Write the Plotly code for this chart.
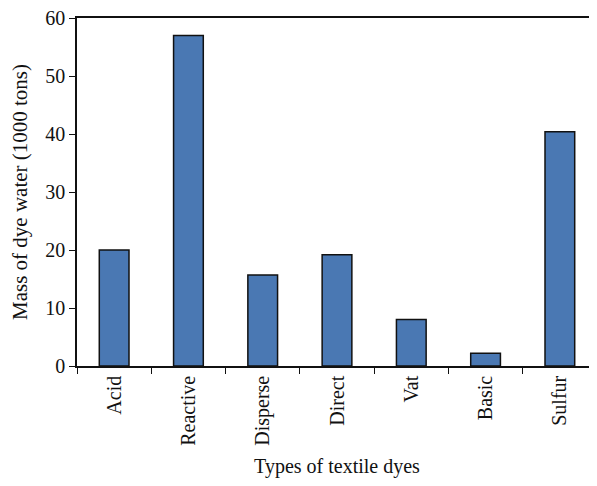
import plotly.graph_objects as go

categories = ["Acid", "Reactive", "Disperse", "Direct", "Vat", "Basic", "Sulfur"]
values = [20.0, 57.0, 15.7, 19.2, 8.0, 2.2, 40.4]
y_ticks = [0, 10, 20, 30, 40, 50, 60]

font_family = "Liberation Serif, DejaVu Serif, serif"

fig = go.Figure(go.Bar(
    x=categories, y=values, width=0.4,
    marker=dict(color="#4a78b3", line=dict(color="#111111", width=1.5)),
))

fig.update_layout(
    width=589, height=470,
    margin=dict(l=69, r=0, t=10, b=112, autoexpand=False),
    paper_bgcolor="white", plot_bgcolor="white",
    font=dict(family=font_family, size=20, color="#111111"),
    showlegend=False,
)
fig.update_xaxes(
    type="category", tickson="boundaries", ticks="outside", ticklen=6,
    tickcolor="#111111", tickwidth=1.2,
    showline=True, linecolor="#111111", linewidth=1.5, mirror=True,
    tickangle=-90, showgrid=False, automargin=False,
    ticklabeloverflow="allow",
    title=dict(text="Types of textile dyes", font=dict(size=20), standoff=14),
)
fig.update_yaxes(
    range=[0, 60], tickvals=y_ticks, ticks="outside", ticklen=6,
    tickcolor="#111111", tickwidth=1.2,
    showline=True, linecolor="#111111", linewidth=1.5,
    showgrid=False, zeroline=False, automargin=False,
    ticklabeloverflow="allow",
    title=dict(text="Mass of dye water (1000 tons)", font=dict(size=21), standoff=14),
)

fig.write_html("out.html")
